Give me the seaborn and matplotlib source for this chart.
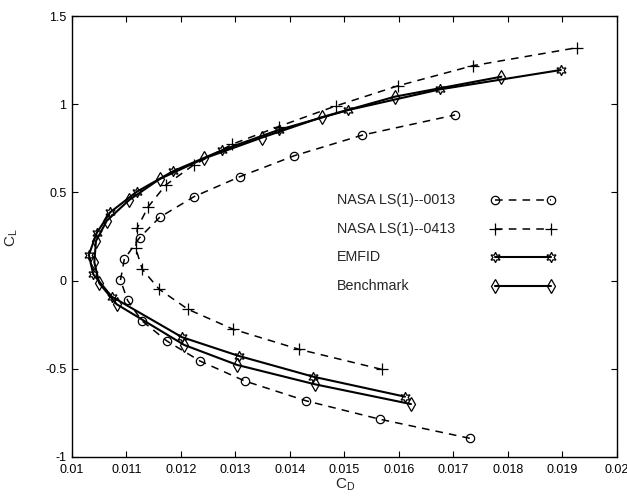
import matplotlib
matplotlib.use("Agg")
import matplotlib.pyplot as plt
import seaborn as sns
import pandas as pd

sns.set_theme(style="ticks")
plt.rcParams['font.family'] = ['Liberation Sans', 'DejaVu Sans']

# NASA LS(1)-0013
cd_0013 = [0.01730, 0.01565, 0.01429, 0.01317, 0.01235, 0.01174, 0.01128, 0.01102, 0.01089,
           0.01096, 0.01124, 0.01161, 0.01224, 0.01308, 0.01408, 0.01533, 0.01703]
cl_0013 = [-0.894, -0.786, -0.681, -0.569, -0.456, -0.342, -0.227, -0.112, 0.003,
           0.121, 0.243, 0.359, 0.476, 0.589, 0.708, 0.825, 0.939]

# NASA LS(1)-0413
cd_0413 = [0.01568, 0.01417, 0.01296, 0.01213, 0.01160, 0.01129, 0.01117, 0.01120, 0.01140,
           0.01172, 0.01223, 0.01294, 0.01379, 0.01484, 0.01599, 0.01735, 0.01926]
cl_0413 = [-0.503, -0.390, -0.276, -0.163, -0.049, 0.064, 0.183, 0.300, 0.419,
           0.542, 0.655, 0.773, 0.873, 0.990, 1.105, 1.218, 1.320]

# EMFID
cd_emfid = [0.01611, 0.01443, 0.01306, 0.01202, 0.01073, 0.01039, 0.01031, 0.01045, 0.01070,
            0.01119, 0.01186, 0.01276, 0.01379, 0.01507, 0.01675, 0.01897]
cl_emfid = [-0.658, -0.545, -0.427, -0.321, -0.091, 0.036, 0.145, 0.268, 0.387,
            0.504, 0.621, 0.740, 0.854, 0.967, 1.084, 1.194]

# Benchmark
cd_bench = [0.01622, 0.01446, 0.01303, 0.01206, 0.01082, 0.01050, 0.01041, 0.01044, 0.01064,
            0.01105, 0.01161, 0.01243, 0.01348, 0.01458, 0.01593, 0.01788]
cl_bench = [-0.700, -0.588, -0.478, -0.365, -0.134, -0.015, 0.104, 0.224, 0.340,
            0.457, 0.576, 0.693, 0.810, 0.926, 1.043, 1.156]

labels = ["NASA LS(1)--0013", "NASA LS(1)--0413", "EMFID", "Benchmark"]
x_ticks = [0.01, 0.011, 0.012, 0.013, 0.014, 0.015, 0.016, 0.017, 0.018, 0.019, 0.02]
x_tick_labels = ["0.01", "0.011", "0.012", "0.013", "0.014", "0.015", "0.016", "0.017", "0.018", "0.019", "0.02"]
y_ticks = [-1, -0.5, 0, 0.5, 1, 1.5]
y_tick_labels = ["-1", "-0.5", "0", "0.5", "1", "1.5"]

fig = plt.figure(figsize=(6.27, 4.97), dpi=100)
ax = fig.add_axes([0.1148, 0.0805, 0.8692, 0.8873])

hexagram = (6, 1, 0)
series = [
    (cd_0013, cl_0013, labels[0], dict(marker='o', linestyle=(0, (5, 4)), markersize=6, linewidth=1.1)),
    (cd_0413, cl_0413, labels[1], dict(marker='+', linestyle=(0, (5, 4)), markersize=8, linewidth=1.1)),
    (cd_emfid, cl_emfid, labels[2], dict(marker=hexagram, linestyle='-', markersize=7.5, linewidth=1.5)),
    (cd_bench, cl_bench, labels[3], dict(marker='d', linestyle='-', markersize=7.5, linewidth=1.5)),
]

for xs, ys, lab, st in series:
    df = pd.DataFrame({"CD": xs, "CL": ys})
    sns.lineplot(data=df, x="CD", y="CL", sort=False, estimator=None, ax=ax,
                 color='black', label=lab, markerfacecolor='none',
                 markeredgecolor='black', markeredgewidth=0.9, **st)

ax.set_xlim(0.01, 0.02)
ax.set_ylim(-1, 1.5)
ax.set_xticks(x_ticks)
ax.set_xticklabels(x_tick_labels, fontsize=9)
ax.set_yticks(y_ticks)
ax.set_yticklabels(y_tick_labels, fontsize=9)
ax.tick_params(direction='in', top=True, right=True, length=4, width=0.8, colors='black', pad=4)
ax.tick_params(axis='x', pad=5)
for s in ax.spines.values():
    s.set_visible(True)
    s.set_color('black')
    s.set_linewidth(1.0)
ax.set_xlabel(r"C$_\mathregular{D}$", fontsize=11)
ax.xaxis.set_label_coords((345 - 72) / 545, -(476 - 457) / 441)
ax.set_ylabel(r"C$_\mathregular{L}$", fontsize=11)
ax.yaxis.set_label_coords((20 - 72) / 545, (457 - 238) / 441)

handles, _ = ax.get_legend_handles_labels()
fs = 10
fs_px = fs * 100 / 72
marker_span = 551 - 495
handlelength = marker_span / fs_px + 0.6
box_left_px = 495 - 0.3 * fs_px
leg = ax.legend(handles, [''] * len(handles), loc='upper left',
                bbox_to_anchor=((box_left_px - 72) / 545, (457 - 194) / 441),
                frameon=False, numpoints=2, handlelength=handlelength,
                handletextpad=0.0, labelspacing=1.05, fontsize=fs,
                borderpad=0, borderaxespad=0)

fig.canvas.draw()
renderer = fig.canvas.get_renderer()
inv = ax.transAxes.inverted()
text_x = (337 - 72) / 545
for line, lab in zip(leg.get_lines(), labels):
    bb = line.get_window_extent(renderer)
    yc = (bb.y0 + bb.y1) / 2
    _, ya = inv.transform((0, yc))
    ax.text(text_x, ya, lab, transform=ax.transAxes, ha='left', va='center', fontsize=10.3)

fig.savefig("out.png", dpi=100)
